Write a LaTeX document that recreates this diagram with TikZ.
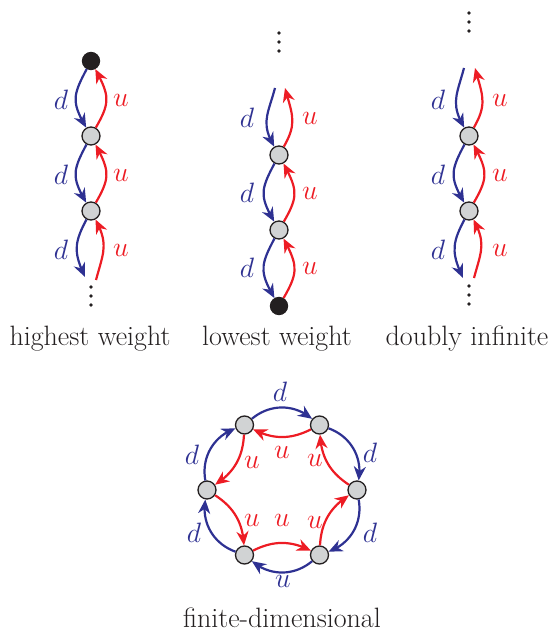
\documentclass[tikz,border=0pt]{standalone}
\usepackage{fix-cm}
\usetikzlibrary{arrows.meta,bending}
\definecolor{dblue}{HTML}{2E3192}
\definecolor{ured}{HTML}{ED1C24}
\definecolor{ngray}{HTML}{D1D3D4}
\definecolor{nblack}{HTML}{231F20}
\begin{document}
\begin{tikzpicture}[x=1pt,y=1pt,
  wnode/.style={circle,draw=nblack,line width=1.3pt,fill=ngray,minimum size=18pt,inner sep=0pt},
  bnode/.style={circle,draw=nblack,line width=1.3pt,fill=nblack,minimum size=17pt,inner sep=0pt},
  tipstyle/.style={-{Stealth[length=14pt,width=12pt,inset=4.5pt]}},
  darr/.style={draw=dblue,line width=2.2pt,tipstyle},
  uarr/.style={draw=ured,line width=2.2pt,tipstyle},
  dnarc/.style={darr,out=-118,in=120,looseness=1.3},
  uparc/.style={uarr,out=60,in=-62,looseness=1.3},
  lbl/.style={font=\fontsize{28}{33}\selectfont,inner sep=0pt},
  dlab/.style={lbl,text=dblue},
  ulab/.style={lbl,text=ured},
  captext/.style={lbl,anchor=base,text=nblack},
  dotc/.style={fill=nblack}
]
\useasboundingbox (0,0) rectangle (557,634);

% ---------- column 1: highest weight ----------
\node[bnode] (a0) at (91,573) {};
\node[wnode] (a1) at (91,498) {};
\node[wnode] (a2) at (91,423) {};
\coordinate (a3d) at (85,357);
\coordinate (a3u) at (96,354);
\draw[dnarc] (a0) to (a1);
\draw[dnarc] (a1) to (a2);
\draw[darr] (a2) to[out=-118,in=115,looseness=1.2] (a3d);
\draw[uparc] (a1) to (a0);
\draw[uparc] (a2) to (a1);
\draw[uarr] (a3u) to[out=75,in=-62,looseness=1.2] (a2);
\node[dlab] (a0d) at (61,534) {$d$};
\node[dlab] (a1d) at (61,459) {$d$};
\node[dlab] (a2d) at (61,384) {$d$};
\node[ulab] (a0u) at (121,534) {$u$};
\node[ulab] (a1u) at (121,459) {$u$};
\node[ulab] (a2u) at (121,384) {$u$};
\foreach \yy in {347,338,329} \fill[dotc] (91,\yy) circle (1.9);
\node[captext] (c1) at (90,288) {highest weight};

% ---------- column 2: lowest weight ----------
\coordinate (b0d) at (275,546);
\coordinate (b0u) at (285,546);
\node[wnode] (b1) at (279,479) {};
\node[wnode] (b2) at (279,404) {};
\node[bnode] (b3) at (279,328) {};
\draw[darr] (b0d) to[out=-105,in=120,looseness=1.2] (b1);
\draw[dnarc] (b1) to (b2);
\draw[dnarc] (b2) to (b3);
\draw[uarr] (b1) to[out=60,in=-75,looseness=1.2] (b0u);
\draw[uparc] (b2) to (b1);
\draw[uparc] (b3) to (b2);
\node[dlab] (b0dl) at (247,516) {$d$};
\node[dlab] (b1dl) at (247,441) {$d$};
\node[dlab] (b2dl) at (247,366) {$d$};
\node[ulab] (b0ul) at (310,516) {$u$};
\node[ulab] (b1ul) at (310,441) {$u$};
\node[ulab] (b2ul) at (310,366) {$u$};
\foreach \yy in {601,592,583} \fill[dotc] (279,\yy) circle (1.9);
\node[captext] (c2) at (277,288) {lowest weight};

% ---------- column 3: doubly infinite ----------
\coordinate (c0d) at (464,566);
\coordinate (c0u) at (475,566);
\node[wnode] (c1n) at (469,498) {};
\node[wnode] (c2n) at (469,423) {};
\coordinate (c3d) at (463,356);
\coordinate (c3u) at (474,356);
\draw[darr] (c0d) to[out=-105,in=120,looseness=1.2] (c1n);
\draw[dnarc] (c1n) to (c2n);
\draw[darr] (c2n) to[out=-118,in=115,looseness=1.2] (c3d);
\draw[uarr] (c1n) to[out=60,in=-75,looseness=1.2] (c0u);
\draw[uparc] (c2n) to (c1n);
\draw[uarr] (c3u) to[out=75,in=-62,looseness=1.2] (c2n);
\node[dlab] (c0dl) at (438,534) {$d$};
\node[dlab] (c1dl) at (438,459) {$d$};
\node[dlab] (c2dl) at (438,384) {$d$};
\node[ulab] (c0ul) at (500,534) {$u$};
\node[ulab] (c1ul) at (500,459) {$u$};
\node[ulab] (c2ul) at (500,384) {$u$};
\foreach \yy in {621,612,603} \fill[dotc] (469,\yy) circle (1.9);
\foreach \yy in {348,339,330} \fill[dotc] (469,\yy) circle (1.9);
\node[captext] (c3) at (467,288) {doubly infinite};

% ---------- finite-dimensional ----------
\node[wnode] (h0) at (357,144) {};
\node[wnode] (h60) at (319.5,209) {};
\node[wnode] (h120) at (244.5,209) {};
\node[wnode] (h180) at (207,144) {};
\node[wnode] (h240) at (244.5,79) {};
\node[wnode] (h300) at (319.5,79) {};
\draw[darr] (h120) to[bend left=40] (h60);
\draw[darr] (h60) to[bend left=40] (h0);
\draw[darr] (h0) to[bend left=40] (h300);
\draw[darr] (h300) to[bend left=40] (h240);
\draw[darr] (h240) to[bend left=40] (h180);
\draw[darr] (h180) to[bend left=40] (h120);
\draw[uarr] (h60) to[bend left=27] (h120);
\draw[uarr] (h0) to[bend left=27] (h60);
\draw[uarr] (h300) to[bend left=27] (h0);
\draw[uarr] (h240) to[bend left=27] (h300);
\draw[uarr] (h180) to[bend left=27] (h240);
\draw[uarr] (h120) to[bend left=27] (h180);
\node[dlab] (hd1) at (280,242) {$d$};
\node[dlab] (hd2) at (370,181) {$d$};
\node[dlab] (hd3) at (370,101) {$d$};
\node[dlab] (hd4) at (283,53) {$u$};
\node[dlab] (hd5) at (194,101) {$d$};
\node[dlab] (hd6) at (192,179) {$d$};
\node[ulab] (hu1) at (282,182) {$u$};
\node[ulab] (hu2) at (315,174) {$u$};
\node[ulab] (hu3) at (252,172) {$u$};
\node[ulab] (hu4) at (252,114) {$u$};
\node[ulab] (hu5) at (282,114) {$u$};
\node[ulab] (hu6) at (315,112) {$u$};
\node[captext] (c4) at (282,6) {finite-dimensional};
\end{tikzpicture}
\end{document}
